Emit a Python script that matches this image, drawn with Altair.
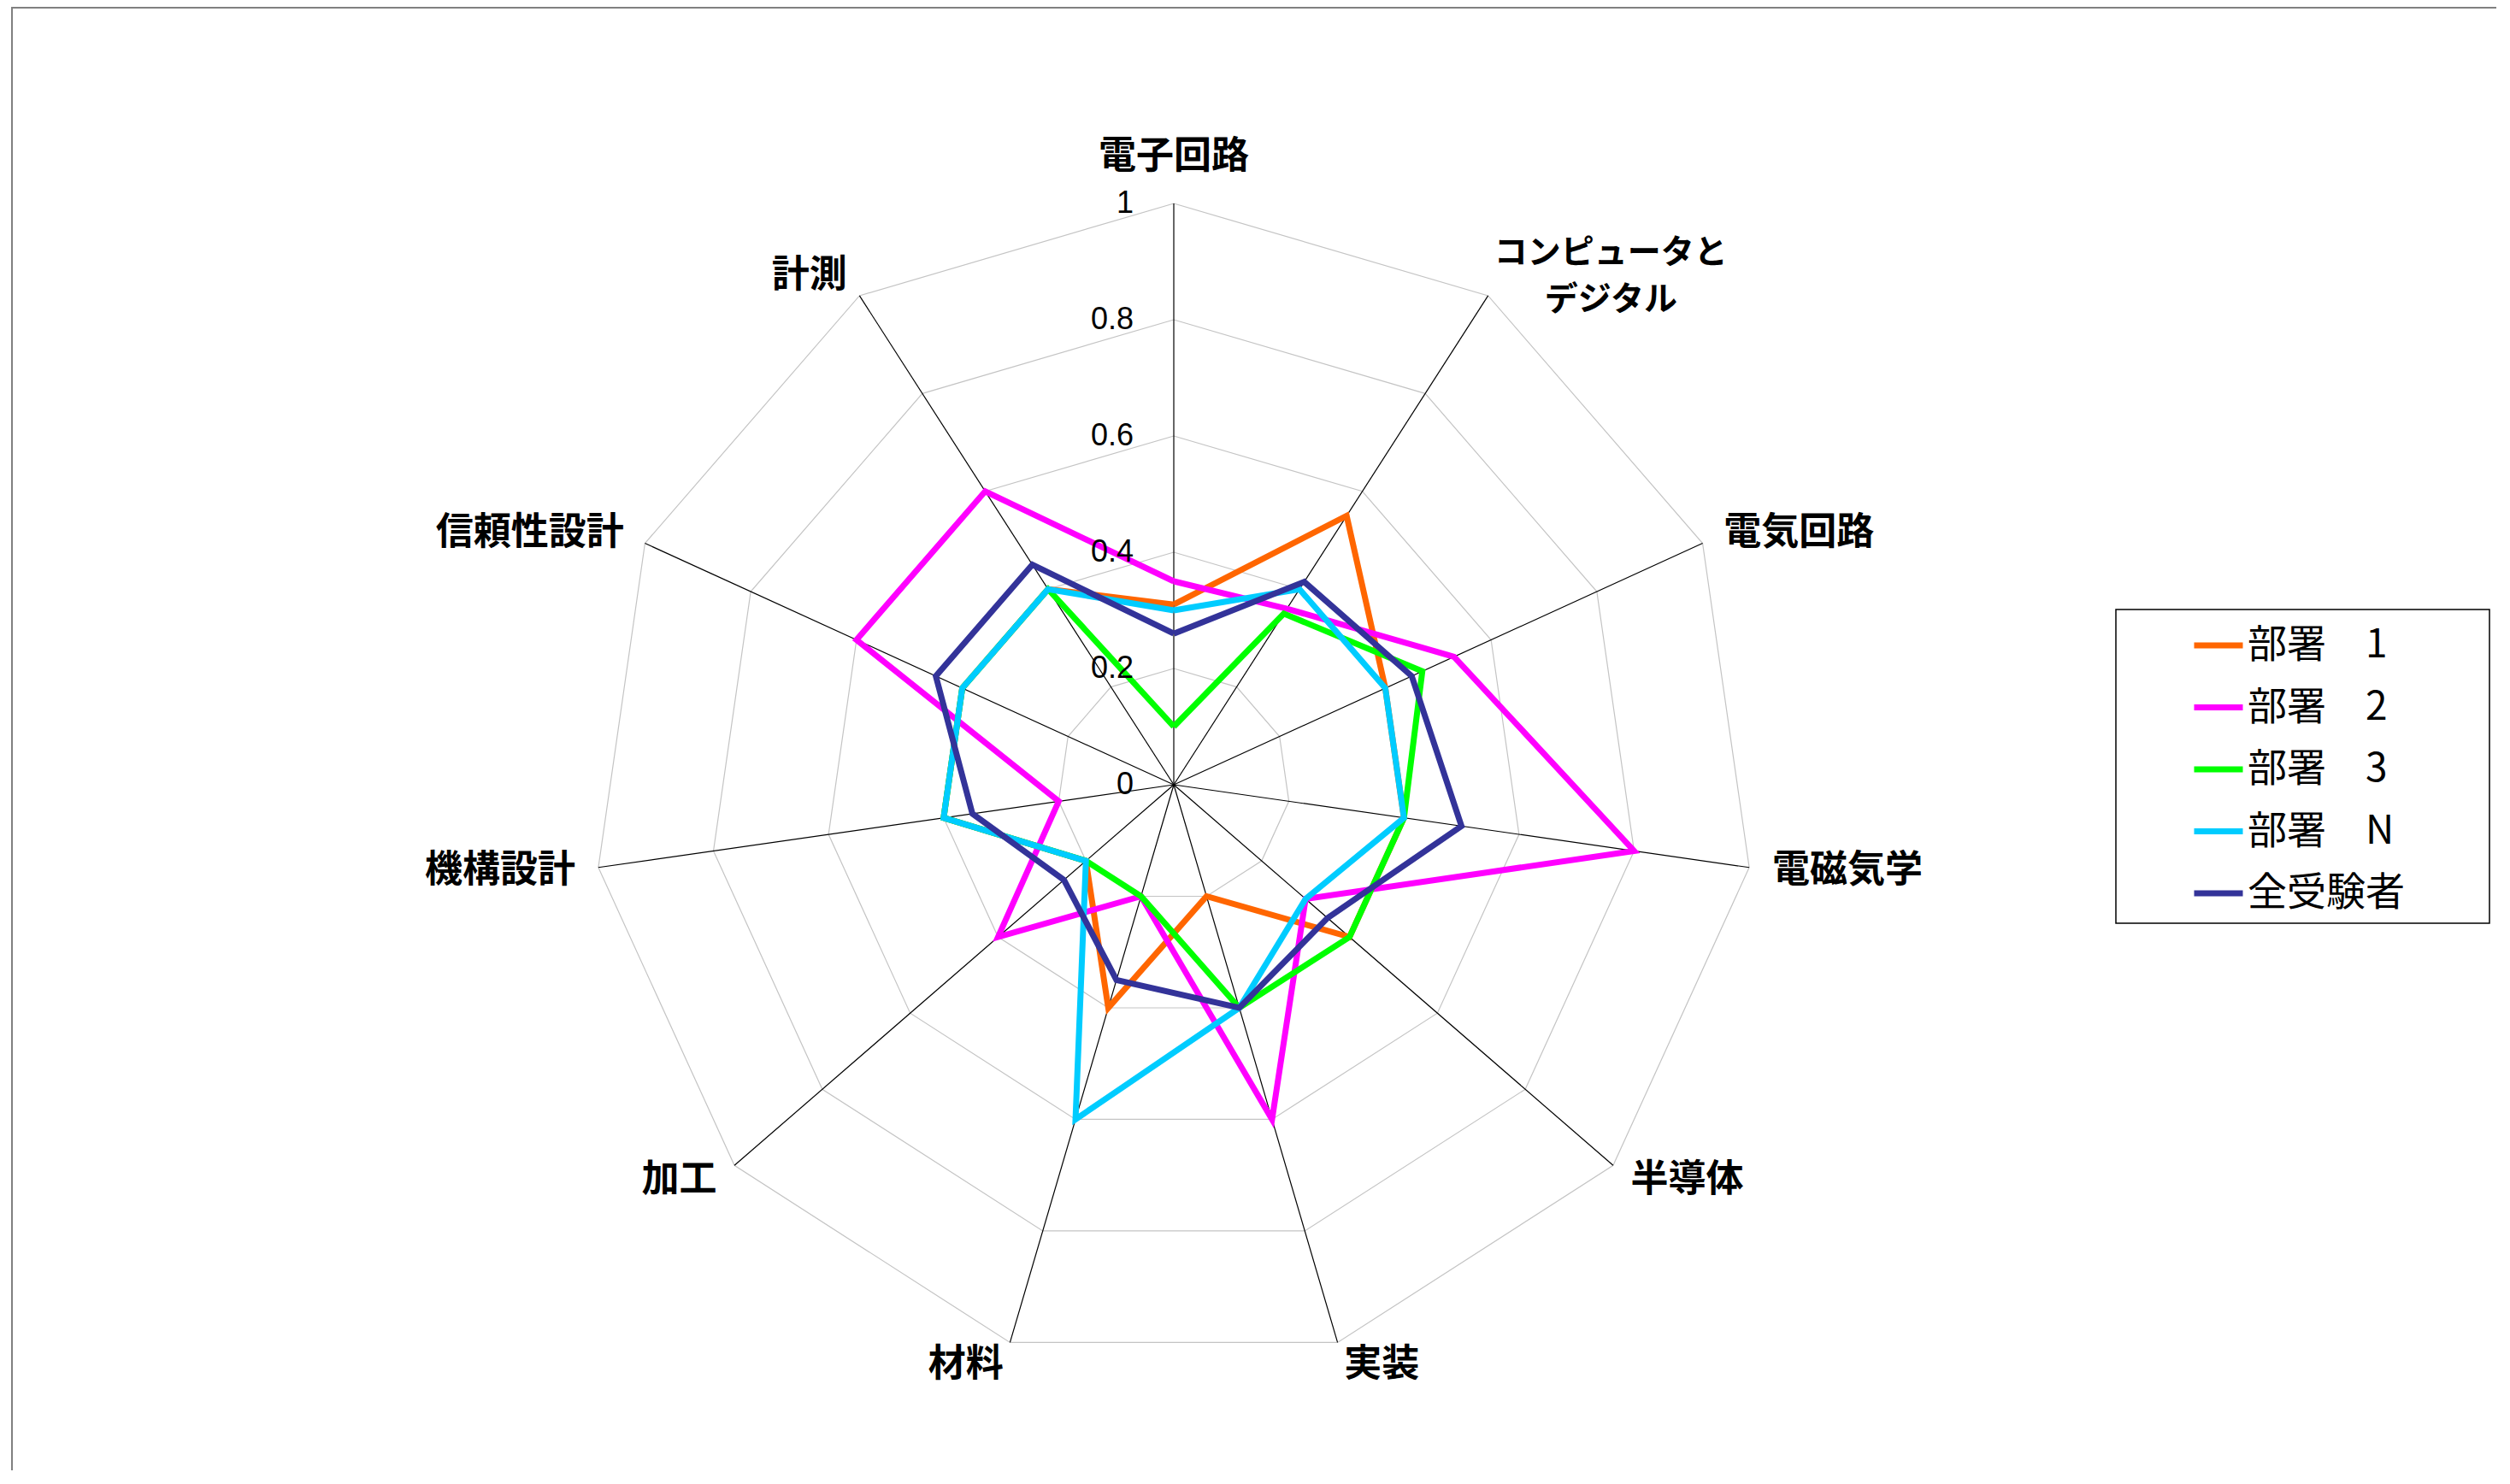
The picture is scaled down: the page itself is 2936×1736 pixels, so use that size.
import altair as alt
import pandas as pd

# ---------------- data ----------------
categories = ["電子回路", "コンピュータと\nデジタル", "電気回路", "電磁気学", "半導体",
              "実装", "材料", "加工", "機構設計", "信頼性設計", "計測"]
series_names = ["部署　1", "部署　2", "部署　3", "部署　N", "全受験者"]
dept1 = [0.31, 0.55, 0.40, 0.40, 0.40, 0.20, 0.40, 0.20, 0.40, 0.40, 0.40]
dept2 = [0.35, 0.36, 0.53, 0.80, 0.30, 0.60, 0.20, 0.40, 0.20, 0.60, 0.60]
dept3 = [0.10, 0.35, 0.47, 0.40, 0.40, 0.40, 0.20, 0.20, 0.40, 0.40, 0.40]
deptN = [0.30, 0.40, 0.40, 0.40, 0.30, 0.40, 0.60, 0.20, 0.40, 0.40, 0.40]
all_examinees = [0.26, 0.415, 0.45, 0.50, 0.35, 0.40, 0.35, 0.25, 0.35, 0.45, 0.45]
series_colors = ["#FF6600", "#FF00FF", "#00FF00", "#00CCFF", "#333399"]
tick_values = [0, 0.2, 0.4, 0.6, 0.8, 1.0]
tick_labels = ["0", "0.2", "0.4", "0.6", "0.8", "1"]

# ---------------- layout ----------------
N = len(categories)
W, H = 2912, 1712
CX, CY, R = 1365, 910, 680
xscale = alt.Scale(domain=[-CX / R, (W - CX) / R], nice=False, zero=False)
yscale = alt.Scale(domain=[-(H - CY) / R, CY / R], nice=False, zero=False)
ANG = f"2*PI*datum.idx/{N}"

# series table (closed polygons)
rows = []
for name, vals in zip(series_names, [dept1, dept2, dept3, deptN, all_examinees]):
    for i in range(N + 1):
        rows.append({"series": name, "idx": i, "value": vals[i % N]})
series_df = pd.DataFrame(rows)

ring_rows = []
for lv in tick_values[1:]:
    for i in range(N + 1):
        ring_rows.append({"level": lv, "idx": i})
ring_df = pd.DataFrame(ring_rows)

spoke_df = pd.DataFrame({"idx": list(range(N))})
label_df = pd.DataFrame({"label": categories, "idx": list(range(N))})
tick_df = pd.DataFrame({"v": tick_values, "t": tick_labels})

X = lambda f: alt.X(f, scale=xscale, axis=None)
Y = lambda f: alt.Y(f, scale=yscale, axis=None)

rings = alt.Chart(ring_df).transform_calculate(
    x=f"datum.level*sin({ANG})", y=f"datum.level*cos({ANG})"
).mark_line(color="#c4c4c4", strokeWidth=1.2).encode(
    x=X("x:Q"), y=Y("y:Q"), detail="level:N", order="idx:Q"
)

spokes = alt.Chart(spoke_df).transform_calculate(
    x0="0", y0="0", x1=f"sin({ANG})", y1=f"cos({ANG})"
).mark_rule(color="black", strokeWidth=1.2).encode(
    x=X("x0:Q"), y=Y("y0:Q"), x2="x1:Q", y2="y1:Q"
)

legend = alt.Legend(
    title=None, orient="none", legendX=2555, legendY=715,
    symbolType="stroke", symbolSize=3249, symbolStrokeWidth=7,
    labelFontSize=46, labelFont="Noto Sans CJK JP", labelColor="black",
    labelOffset=2, labelLimit=600, rowPadding=17.5, padding=0, symbolOffset=0,
)
color = alt.Color("series:N", scale=alt.Scale(domain=series_names, range=series_colors),
                  legend=legend)

series_layers = []
for name in series_names:
    series_layers.append(
        alt.Chart(series_df).transform_filter(alt.datum.series == name).transform_calculate(
            x=f"datum.value*sin({ANG})", y=f"datum.value*cos({ANG})"
        ).mark_line(strokeWidth=7, strokeJoin="miter").encode(
            x=X("x:Q"), y=Y("y:Q"), color=color, order="idx:Q"
        )
    )

ticks = alt.Chart(tick_df).transform_calculate(x0="0").mark_text(
    align="right", baseline="middle", dx=-47, fontSize=36, font="Liberation Sans", color="black"
).encode(x=X("x0:Q"), y=Y("v:Q"), text="t:N")

GAP = 1.04
lab_base = alt.Chart(label_df).transform_calculate(
    sx=f"sin({ANG})", x=f"{GAP}*sin({ANG})", y=f"{GAP}*cos({ANG})",
    ml="indexof(datum.label, '\\n') >= 0"
)
font_kw = dict(font="Noto Sans CJK JP", fontWeight="bold", color="black",
               baseline="middle", lineBreak="\n", lineHeight=55)
lab_left = lab_base.transform_filter("datum.sx > 0.05 && !datum.ml").mark_text(
    align="left", fontSize=44, **font_kw).encode(x=X("x:Q"), y=Y("y:Q"), text="label:N")
lab_right = lab_base.transform_filter("datum.sx < -0.05").mark_text(
    align="right", fontSize=44, **font_kw).encode(x=X("x:Q"), y=Y("y:Q"), text="label:N")
lab_top = lab_base.transform_filter("abs(datum.sx) <= 0.05").mark_text(
    align="center", dy=-27, fontSize=44, **font_kw).encode(x=X("x:Q"), y=Y("y:Q"), text="label:N")
lab_multi = lab_base.transform_filter("datum.ml").mark_text(
    align="center", dx=129, dy=-27, fontSize=39, **font_kw).encode(x=X("x:Q"), y=Y("y:Q"), text="label:N")

one = pd.DataFrame({"k": [0]})
legend_box = alt.Chart(one).mark_rect(fill="white", fillOpacity=0, stroke="black", strokeWidth=1.5).encode(
    x=alt.value(2467), x2=alt.value(2904), y=alt.value(705), y2=alt.value(1072)
)
frame_left = alt.Chart(one).mark_rule(color="#808080", strokeWidth=2).encode(
    x=alt.value(6), y=alt.value(0), y2=alt.value(H)
)
frame_top = alt.Chart(one).mark_rule(color="#808080", strokeWidth=2).encode(
    x=alt.value(6), x2=alt.value(W), y=alt.value(1)
)

chart = alt.layer(
    rings, spokes, *series_layers, ticks, lab_left, lab_right, lab_top, lab_multi,
    legend_box, frame_left, frame_top
).properties(
    width=W, height=H, padding=0, autosize=alt.AutoSizeParams(type="none"),
    background="white"
).configure_view(stroke=None)

chart.save("out.html", embed_options={"renderer": "svg", "actions": False})
